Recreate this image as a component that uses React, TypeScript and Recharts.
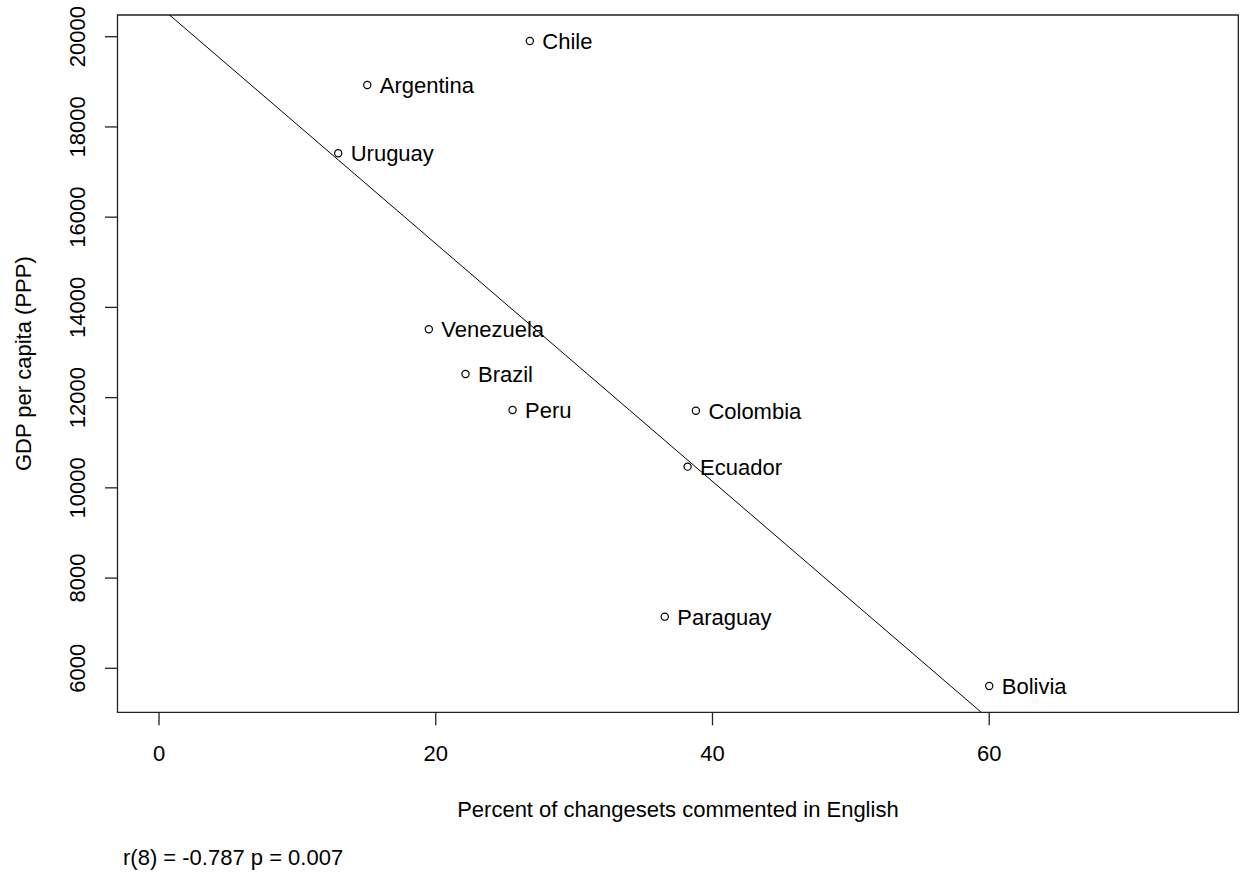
import React from 'react';
import { ScatterChart, Scatter, XAxis, YAxis, ReferenceLine, ReferenceArea } from 'recharts';

// ---- data ----
const COUNTRIES = ['Chile', 'Argentina', 'Uruguay', 'Venezuela', 'Brazil', 'Peru', 'Colombia', 'Ecuador', 'Paraguay', 'Bolivia'];
const ENGLISH_PCT = [26.8, 15.05, 12.95, 19.5, 22.15, 25.55, 38.8, 38.2, 36.55, 60.0];
const GDP_PPP = [19905, 18930, 17415, 13515, 12525, 11725, 11710, 10470, 7145, 5608];

const X_TICKS = [0, 20, 40, 60];
const Y_TICKS = [6000, 8000, 10000, 12000, 14000, 16000, 18000, 20000];
const X_DOMAIN: [number, number] = [-3, 78];
const Y_DOMAIN: [number, number] = [5025, 20481];

const X_LABEL = 'Percent of changesets commented in English';
const Y_LABEL = 'GDP per capita (PPP)';
const STATS_TEXT = 'r(8) = -0.787 p = 0.007';

const FONT = '"Liberation Sans", Arial, sans-serif';

const data = COUNTRIES.map((name, i) => ({ name, pct: ENGLISH_PCT[i], gdp: GDP_PPP[i] }));

// least squares fit from the data
const n = ENGLISH_PCT.length;
const mx = ENGLISH_PCT.reduce((a, b) => a + b, 0) / n;
const my = GDP_PPP.reduce((a, b) => a + b, 0) / n;
let sxy = 0;
let sxx = 0;
for (let i = 0; i < n; i++) {
  sxy += (ENGLISH_PCT[i] - mx) * (GDP_PPP[i] - my);
  sxx += (ENGLISH_PCT[i] - mx) ** 2;
}
const slope = sxy / sxx;
const intercept = my - slope * mx;
const fitLine = (x: number) => intercept + slope * x;

const XTick = (props: any) => {
  const { x, y, payload } = props;
  return (
    <text x={x} y={y + 36} textAnchor="middle" fontSize={22} fontFamily={FONT} fill="#000">
      {payload.value}
    </text>
  );
};

const YTick = (props: any) => {
  const { x, y, payload } = props;
  return (
    <text
      transform={`translate(${x - 20},${y}) rotate(-90)`}
      textAnchor="middle"
      fontSize={22}
      fontFamily={FONT}
      fill="#000"
    >
      {payload.value}
    </text>
  );
};

const PointShape = (props: any) => {
  const { cx, cy, payload } = props;
  return (
    <g>
      <circle cx={cx} cy={cy} r={3.6} fill="none" stroke="#000" strokeWidth={1.2} />
      <text x={cx + 12.5} y={cy + 8} fontSize={22} fontFamily={FONT} fill="#000">
        {payload.name}
      </text>
    </g>
  );
};

const XLabel = (props: any) => {
  const vb = props.viewBox || {};
  return (
    <g>
      <text x={vb.x + vb.width / 2} y={vb.y + 104.7} textAnchor="middle" fontSize={22} fontFamily={FONT} fill="#000">
        {X_LABEL}
      </text>
      <text x={vb.x + 5.5} y={vb.y + 152.7} textAnchor="start" fontSize={22} fontFamily={FONT} fill="#000">
        {STATS_TEXT}
      </text>
    </g>
  );
};

const YLabel = (props: any) => {
  const vb = props.viewBox || {};
  return (
    <text
      transform={`translate(31,${vb.y + vb.height / 2}) rotate(-90)`}
      textAnchor="middle"
      fontSize={22}
      fontFamily={FONT}
      fill="#000"
    >
      {Y_LABEL}
    </text>
  );
};

export default function App() {
  return (
    <div style={{ position: 'absolute', left: 0, top: 0, background: '#fff' }}>
      <ScatterChart
        width={1241}
        height={872}
        margin={{ top: 15, right: 2.7, left: 0, bottom: 119.7 }}
      >
        <XAxis
          type="number"
          dataKey="pct"
          domain={X_DOMAIN}
          ticks={X_TICKS}
          allowDataOverflow
          axisLine={false}
          tickSize={13}
          tickMargin={0}
          tickLine={{ stroke: '#222', strokeWidth: 1.3 }}
          tick={<XTick />}
          height={40}
          label={<XLabel />}
        />
        <YAxis
          type="number"
          dataKey="gdp"
          domain={Y_DOMAIN}
          ticks={Y_TICKS}
          allowDataOverflow
          axisLine={false}
          tickSize={12.5}
          tickMargin={0}
          tickLine={{ stroke: '#222', strokeWidth: 1.3 }}
          tick={<YTick />}
          width={117.5}
          label={<YLabel />}
        />
        <ReferenceLine
          segment={[
            { x: X_DOMAIN[0], y: fitLine(X_DOMAIN[0]) },
            { x: X_DOMAIN[1], y: fitLine(X_DOMAIN[1]) },
          ]}
          stroke="#000"
          strokeWidth={1}
          ifOverflow="hidden"
        />
        <Scatter data={data} shape={<PointShape />} isAnimationActive={false} />
        <ReferenceArea
          x1={X_DOMAIN[0]}
          x2={X_DOMAIN[1]}
          y1={Y_DOMAIN[0]}
          y2={Y_DOMAIN[1]}
          fill="none"
          fillOpacity={0}
          stroke="#222"
          strokeWidth={1.3}
          ifOverflow="visible"
        />
      </ScatterChart>
    </div>
  );
}
